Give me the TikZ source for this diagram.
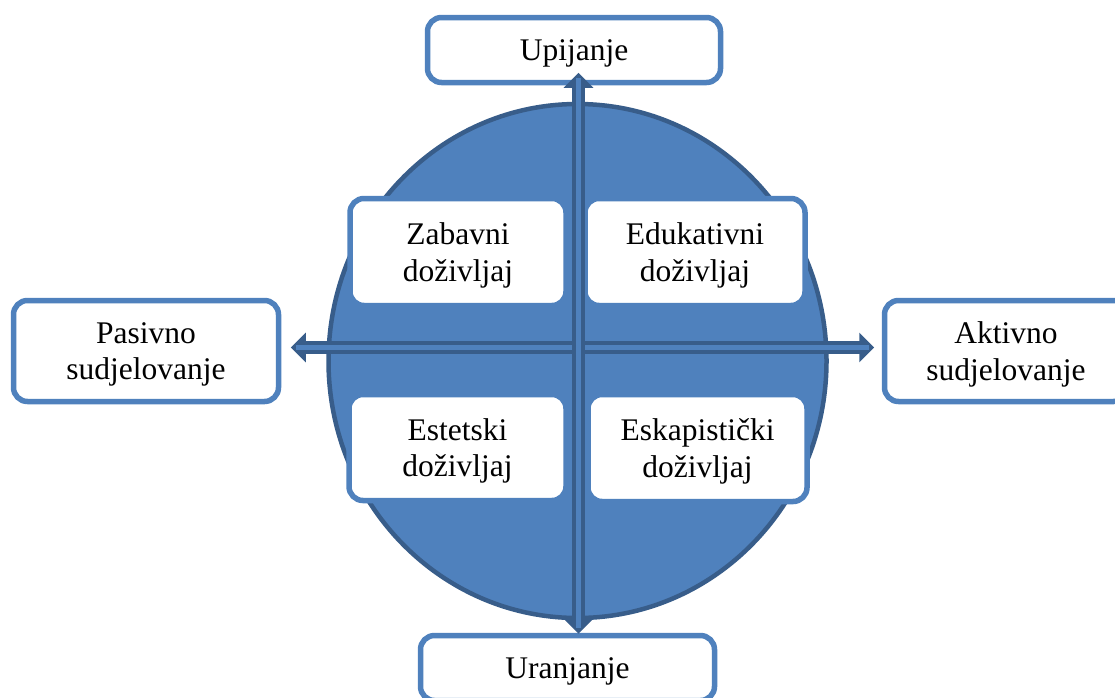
\documentclass[tikz,border=0pt]{standalone}
\usepackage{fontspec}
\setmainfont{Liberation Serif}
\usetikzlibrary{shapes.geometric,arrows.meta}

\definecolor{discblue}{HTML}{4F81BD}
\definecolor{rimblue}{HTML}{385D8A}

\tikzset{
  box/.style={draw=discblue, fill=white, line width=5.5pt, rounded corners=14pt,
    align=center, inner sep=0pt, text depth=0pt,
    font=\fontsize{31.5}{36.5}\selectfont},
  axis/.style={draw=rimblue, line width=13pt,
    arrows={Triangle[length=15pt,width=29pt]-Triangle[length=15pt,width=29pt]}},
  axiscore/.style={draw=discblue, line width=4.5pt}
}

\begin{document}
\begin{tikzpicture}[x=1pt,y=-1pt]

\useasboundingbox (0,0) rectangle (1115,697);

\node[ellipse, draw=rimblue, fill=discblue, line width=4.5pt, inner sep=0pt,
  minimum width=498pt, minimum height=514pt] (disc) at (577.5,361) {};

\node[box, minimum width=216pt, minimum height=107pt] (zab) at (458,252) {Zabavni\\doživljaj};
\node[box, minimum width=220pt, minimum height=107pt] (edu) at (695,252) {Edukativni\\doživljaj};
\node[box, minimum width=217pt, minimum height=106pt] (est) at (457.5,447.5) {Estetski\\doživljaj};
\node[box, minimum width=219pt, minimum height=107pt] (esk) at (697.5,448) {Eskapistički\\doživljaj};

\node[box, minimum width=293pt, minimum height=65pt] (upi) at (574,50) {Upijanje};
\node[box, minimum width=294pt, minimum height=65pt] (ura) at (567.5,668) {Uranjanje};
\node[box, minimum width=265pt, minimum height=101pt] (pas) at (146,351) {Pasivno\\sudjelovanje};
\node[box, minimum width=243pt, minimum height=101pt] (akt) at (1006,351) {Aktivno\\sudjelovanje};

\coordinate (mid) at (578.5,347.5);

\draw[axis, shorten <=9.5pt, shorten >=7.5pt] (pas.east |- mid) -- (akt.west |- mid);
\draw[axiscore, shorten <=15pt, shorten >=13pt] (pas.east |- mid) -- (akt.west |- mid);

\draw[axis, shorten <=-12.5pt, shorten >=-1pt] (upi.south -| mid) -- (ura.north -| mid);
\draw[axiscore, shorten <=-7pt, shorten >=4.5pt] (upi.south -| mid) -- (ura.north -| mid);

\end{tikzpicture}
\end{document}
